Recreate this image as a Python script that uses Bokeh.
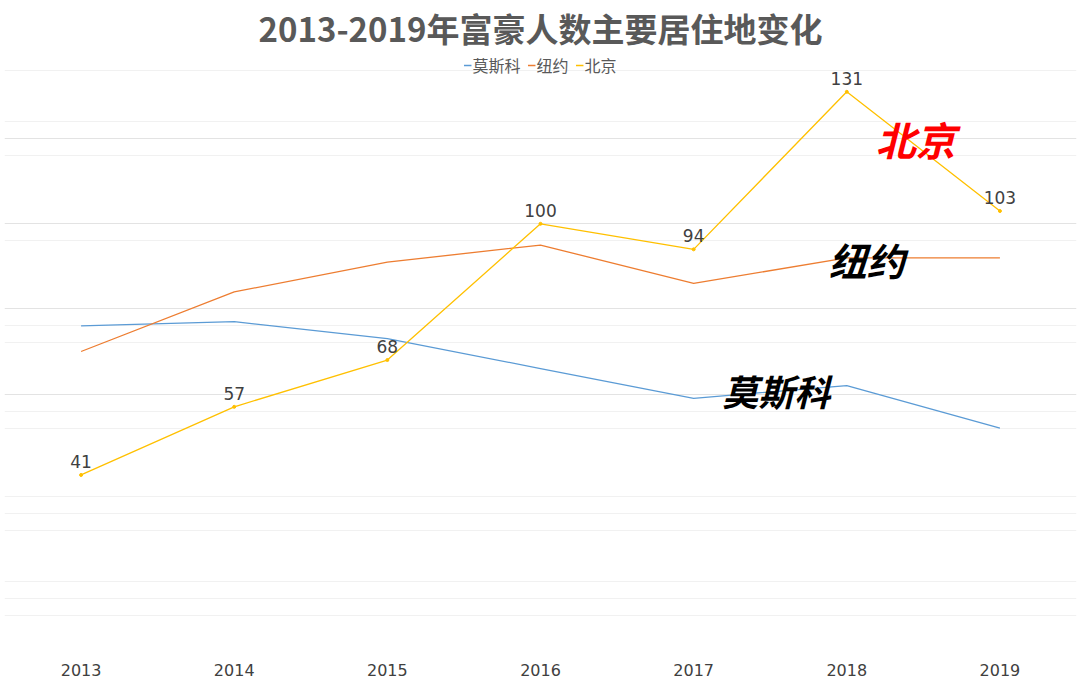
from bokeh.plotting import figure
from bokeh.models import Range1d, FactorRange, FixedTicker, Label, Legend, LegendItem, ColumnDataSource
from bokeh.core.properties import value
from bokeh.embed import file_html
from bokeh.resources import INLINE

years = ["2013", "2014", "2015", "2016", "2017", "2018", "2019"]
moscow = [76, 77, 73, 66, 59, 62, 52]
new_york = [70, 84, 91, 95, 86, 92, 92]
beijing = [41, 57, 68, 100, 94, 131, 103]
series_names = ["莫斯科", "纽约", "北京"]
title_text = "2013-2019年富豪人数主要居住地变化"
grid_major = [60, 80, 100, 120]
grid_minor = [8, 12, 16, 28, 32, 36, 52, 56, 72, 76, 96, 116, 124, 136, 140]

CJK = "Noto Sans CJK SC"

p = figure(width=1080, height=683, x_range=FactorRange(*years), y_range=Range1d(0, 140),
           output_backend="svg", toolbar_location=None, y_axis_location=None,
           min_border_left=4, min_border_right=4, min_border_top=50, min_border_bottom=34)
p.title.text = title_text
p.title.align = "center"
p.title.text_font = CJK
p.title.text_font_style = "bold"
p.title.text_font_size = "33px"
p.title.text_color = "#595959"
p.title.standoff = 3
p.outline_line_color = None
p.xgrid.grid_line_color = None
p.ygrid.ticker = FixedTicker(ticks=grid_major, minor_ticks=grid_minor)
p.ygrid.grid_line_color = "#e3e3e3"
p.ygrid.minor_grid_line_color = "#f1f1f1"

ax = p.xaxis[0]
ax.axis_line_color = None
ax.major_tick_line_color = None
ax.major_label_standoff = 8
ax.major_label_text_font = "DejaVu Sans"
ax.major_label_text_font_size = "16px"
ax.major_label_text_color = "#404040"

colors = ["#5b9bd5", "#ed7d31", "#ffc000"]
r1 = p.line(years, moscow, line_color=colors[0], line_width=1.3)
r2 = p.line(years, new_york, line_color=colors[1], line_width=1.3)
r3 = p.line(years, beijing, line_color=colors[2], line_width=1.3)
p.scatter(years, beijing, size=3, color=colors[2])

src = ColumnDataSource(dict(x=years, y=beijing, t=[str(v) for v in beijing]))
p.text(x="x", y="y", text="t", source=src, y_offset=-7, text_align="center",
       text_baseline="bottom", text_font=value("DejaVu Sans"), text_font_size="17px",
       text_color="#404040")

legend = Legend(items=[LegendItem(label=series_names[0], renderers=[r1]),
                       LegendItem(label=series_names[1], renderers=[r2]),
                       LegendItem(label=series_names[2], renderers=[r3])],
                location="top_center", orientation="horizontal", margin=0, padding=0,
                glyph_width=8, glyph_height=14, label_height=14, label_standoff=1, spacing=7,
                label_text_font=CJK, label_text_font_size="16px", label_text_color="#595959",
                border_line_color=None, background_fill_alpha=0)
p.add_layout(legend)

p.add_layout(Label(x=5.95, y=120, text="北京", text_align="center", text_baseline="middle",
                   text_font=CJK, text_font_style="bold italic", text_font_size="40px", text_color="#ff0000"))
p.add_layout(Label(x=5.63, y=91.5, text="纽约", text_align="center", text_baseline="middle",
                   text_font=CJK, text_font_style="bold italic", text_font_size="38px", text_color="#000000"))
p.add_layout(Label(x=5.04, y=61, text="莫斯科", text_align="center", text_baseline="middle",
                   text_font=CJK, text_font_style="bold italic", text_font_size="36px", text_color="#000000"))

open("out.html", "w").write(file_html(p, INLINE))
